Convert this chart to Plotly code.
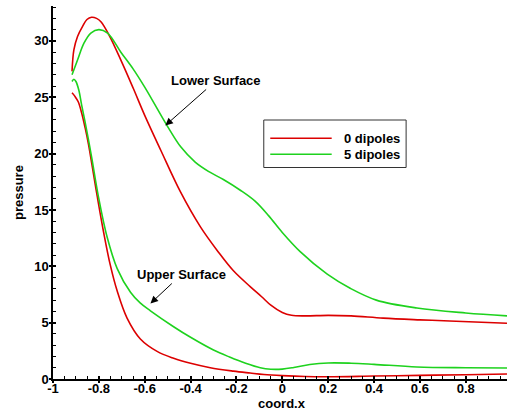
import plotly.graph_objects as go

# ---- series: pressure along the chord, lower and upper surfaces ----
series_names = ["0 dipoles", "5 dipoles"]
series_colors = ["#dc0000", "#1ed21e"]

x_lower_0 = [-0.917, -0.909, -0.893, -0.871, -0.852, -0.832, -0.81, -0.791, -0.755, -0.704,
             -0.65, -0.6, -0.53, -0.444, -0.357, -0.28, -0.213, -0.14, -0.09, -0.05,
             0.0, 0.04, 0.1, 0.2, 0.3, 0.44, 0.6, 0.73, 0.98]
p_lower_0 = [27.3, 29.2, 30.4, 31.3, 31.9, 32.1, 32.0, 31.7, 30.5, 28.3,
             25.8, 23.4, 20.3, 16.6, 13.5, 11.3, 9.6, 8.2, 7.3, 6.55,
             5.9, 5.65, 5.6, 5.65, 5.6, 5.4, 5.25, 5.15, 4.95]

x_upper_0 = [-0.917, -0.905, -0.89, -0.875, -0.86, -0.845, -0.83, -0.807, -0.779, -0.75,
             -0.72, -0.677, -0.619, -0.546, -0.474, -0.4, -0.314, -0.213, -0.14, -0.08,
             0.0, 0.1, 0.2, 0.4, 0.6, 0.8, 0.98]
p_upper_0 = [25.4, 25.1, 24.6, 23.6, 22.3, 20.8, 19.0, 16.2, 13.0, 10.1,
             7.8, 5.4, 3.55, 2.45, 1.84, 1.39, 1.0, 0.7, 0.53, 0.4,
             0.3, 0.22, 0.2, 0.26, 0.32, 0.38, 0.44]

x_lower_5 = [-0.917, -0.893, -0.865, -0.835, -0.80, -0.762, -0.704, -0.65, -0.6, -0.5,
             -0.443, -0.38, -0.32, -0.257, -0.183, -0.12, -0.06, 0.0, 0.078, 0.196,
             0.296, 0.41, 0.587, 0.8, 0.98]
p_lower_5 = [27.0, 28.3, 29.8, 30.7, 31.0, 30.7, 29.0, 27.5, 25.9, 22.4,
             20.6, 19.25, 18.4, 17.7, 16.75, 15.8, 14.5, 13.0, 11.3, 9.3,
             8.05, 7.0, 6.3, 5.86, 5.6]

x_upper_5 = [-0.917, -0.909, -0.9, -0.887, -0.875, -0.86, -0.845, -0.83, -0.803, -0.764,
             -0.72, -0.662, -0.62, -0.575, -0.474, -0.4, -0.3, -0.23, -0.16, -0.096,
             -0.05, 0.0, 0.05, 0.12, 0.2, 0.3, 0.4, 0.587, 0.8, 0.98]
p_upper_5 = [26.4, 26.6, 26.4, 25.6, 24.3, 22.8, 21.2, 19.5, 16.3, 12.6,
             9.8, 7.7, 6.75, 6.05, 4.64, 3.7, 2.57, 1.95, 1.4, 1.0,
             0.87, 0.88, 1.02, 1.28, 1.42, 1.4, 1.3, 1.07, 1.0, 0.98]

# ---- axis ticks ----
x_tick_vals = [-1, -0.8, -0.6, -0.4, -0.2, 0, 0.2, 0.4, 0.6, 0.8]
x_tick_text = ["-1", "-0.8", "-0.6", "-0.4", "-0.2", "0", "0.2", "0.4", "0.6", "0.8"]
y_tick_vals = [0, 5, 10, 15, 20, 25, 30]
y_tick_text = ["0", "5", "10", "15", "20", "25", "30"]

# ---- text labels ----
x_title = "coord.x"
y_title = "pressure"
label_lower = "Lower Surface"
label_upper = "Upper Surface"

W, H = 507, 411
ML, MR, MT, MB = 52.5, 0, 6, 32
X_RANGE = [-1, 0.98]
Y_RANGE = [0, 33.1]

FONT = "Liberation Sans, Arial, Helvetica, sans-serif"
LINE_W = 1.6

fig = go.Figure()

curves = [
    (x_lower_0, p_lower_0, 0),
    (x_upper_0, p_upper_0, 0),
    (x_lower_5, p_lower_5, 1),
    (x_upper_5, p_upper_5, 1),
]
for xs, ps, k in curves:
    fig.add_trace(go.Scatter(
        x=xs, y=ps, mode="lines", name=series_names[k],
        line=dict(color=series_colors[k], width=LINE_W, shape="spline", smoothing=1.0),
        showlegend=False, hoverinfo="skip",
    ))

# empty trace that carries the overlay axes (outer half of the major ticks)
fig.add_trace(go.Scatter(x=[None], y=[None], xaxis="x2", yaxis="y2",
                         showlegend=False, hoverinfo="skip"))

bold13 = dict(family=FONT, size=13, color="black", weight="bold")

fig.update_layout(
    width=W, height=H,
    margin=dict(l=ML, r=MR, t=MT, b=MB, pad=0),
    paper_bgcolor="white", plot_bgcolor="white",
    showlegend=False,
    xaxis=dict(
        range=X_RANGE, showgrid=False, zeroline=False,
        showline=True, linecolor="black", linewidth=1.5,
        tickmode="array", tickvals=x_tick_vals, ticktext=x_tick_text,
        ticks="inside", ticklen=3, tickwidth=1.5, tickcolor="black",
        ticklabelstandoff=-3,
        minor=dict(tickmode="linear", tick0=-1, dtick=0.05, ticks="inside",
                   ticklen=3, tickwidth=1, tickcolor="black", showgrid=False),
        tickfont=bold13,
    ),
    yaxis=dict(
        range=Y_RANGE, showgrid=False, zeroline=False,
        showline=True, linecolor="black", linewidth=1.5,
        tickmode="array", tickvals=y_tick_vals, ticktext=y_tick_text,
        ticks="inside", ticklen=3, tickwidth=1.5, tickcolor="black",
        minor=dict(tickmode="linear", tick0=0, dtick=1, ticks="inside",
                   ticklen=3, tickwidth=1, tickcolor="black", showgrid=False),
        tickfont=bold13,
    ),
    xaxis2=dict(
        overlaying="x", anchor="y2", side="bottom", range=X_RANGE,
        showgrid=False, zeroline=False, showline=False, showticklabels=False,
        tickmode="array", tickvals=x_tick_vals,
        ticks="outside", ticklen=3, tickwidth=1.5, tickcolor="black",
    ),
    yaxis2=dict(
        overlaying="y", anchor="x2", side="left", range=Y_RANGE,
        showgrid=False, zeroline=False, showline=False, showticklabels=False,
        tickmode="array", tickvals=y_tick_vals,
        ticks="outside", ticklen=3, tickwidth=1.5, tickcolor="black",
    ),
)

plot_w = W - ML - MR
plot_h = H - MT - MB


def px_to_paper(px, py):
    """Convert window pixel position to paper coordinates."""
    return (px - ML) / plot_w, (H - MB - py) / plot_h


# axis titles
_, ty_x = px_to_paper(0, 403)
fig.add_annotation(x=0, y=ty_x, xref="x", yref="paper", text=x_title, borderpad=0,
                   showarrow=False, xanchor="center", yanchor="middle", font=bold13)
tx_y, _ = px_to_paper(18, 0)
fig.add_annotation(x=tx_y, y=0.5, xref="paper", yref="paper", text=y_title,
                   showarrow=False, textangle=-90, xanchor="center", yanchor="middle",
                   font=bold13)

# surface callouts with arrows
fig.add_annotation(x=-0.51, y=22.5, xref="x", yref="y", text=label_lower,
                   showarrow=True, arrowhead=2, arrowsize=1.5, arrowwidth=1,
                   arrowcolor="black", ax=51, ay=-45, font=bold13)
fig.add_annotation(x=-0.575, y=6.7, xref="x", yref="y", text=label_upper,
                   showarrow=True, arrowhead=2, arrowsize=1.5, arrowwidth=1,
                   arrowcolor="black", ax=31, ay=-29, font=bold13)

# legend box
bx0, by0 = px_to_paper(263.5, 167.5)
bx1, by1 = px_to_paper(406, 120)
fig.add_shape(type="rect", xref="paper", yref="paper", x0=bx0, y0=by0, x1=bx1, y1=by1,
              line=dict(color="#333333", width=1), fillcolor="white", layer="above")
row_y = [138.3, 154.3]
for k, name in enumerate(series_names):
    lx0, ly = px_to_paper(270, row_y[k])
    lx1, _ = px_to_paper(331.5, row_y[k])
    fig.add_shape(type="line", xref="paper", yref="paper", x0=lx0, x1=lx1, y0=ly, y1=ly,
                  line=dict(color=series_colors[k], width=LINE_W), layer="above")
    tx, ty = px_to_paper(341.5, row_y[k])
    fig.add_annotation(x=tx, y=ty, xref="paper", yref="paper", text=name,
                       showarrow=False, xanchor="left", yanchor="middle", font=bold13)

fig.write_html("out.html")
